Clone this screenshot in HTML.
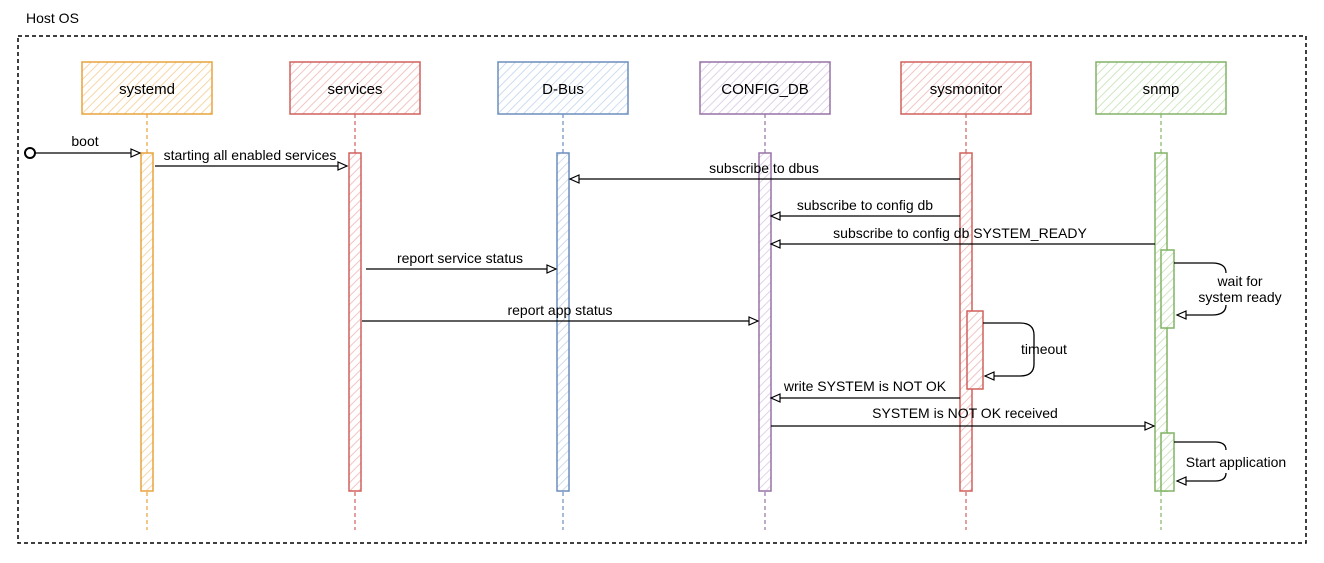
<!DOCTYPE html>
<html><head><meta charset="utf-8"><style>
html,body{margin:0;padding:0;background:#fff;}
svg{display:block;font-family:"Liberation Sans",Arial,sans-serif;}
</style></head><body>
<svg width="1324" height="563" viewBox="0 0 1324 563" xmlns="http://www.w3.org/2000/svg">
<defs>
<pattern id="hO" width="6" height="6" patternUnits="userSpaceOnUse" patternTransform="rotate(45)"><rect width="6" height="6" fill="#fff"/><line x1="0" y1="0" x2="0" y2="6" stroke="#f6d7a8" stroke-width="2"/></pattern>
<pattern id="hR" width="6" height="6" patternUnits="userSpaceOnUse" patternTransform="rotate(45)"><rect width="6" height="6" fill="#fff"/><line x1="0" y1="0" x2="0" y2="6" stroke="#f2c4c2" stroke-width="2"/></pattern>
<pattern id="hB" width="6" height="6" patternUnits="userSpaceOnUse" patternTransform="rotate(45)"><rect width="6" height="6" fill="#fff"/><line x1="0" y1="0" x2="0" y2="6" stroke="#cddcf0" stroke-width="2"/></pattern>
<pattern id="hP" width="6" height="6" patternUnits="userSpaceOnUse" patternTransform="rotate(45)"><rect width="6" height="6" fill="#fff"/><line x1="0" y1="0" x2="0" y2="6" stroke="#e0d2e8" stroke-width="2"/></pattern>
<pattern id="hG" width="6" height="6" patternUnits="userSpaceOnUse" patternTransform="rotate(45)"><rect width="6" height="6" fill="#fff"/><line x1="0" y1="0" x2="0" y2="6" stroke="#cfe6c2" stroke-width="2"/></pattern>
<marker id="ar" markerWidth="12" markerHeight="10" refX="10" refY="5" orient="auto" markerUnits="userSpaceOnUse"><path d="M1,1 L10,5 L1,9 Z" fill="#fff" stroke="#000" stroke-width="1.2"/></marker>
</defs>
<text x="26" y="23" font-size="14" fill="#000">Host OS</text>
<rect x="18" y="36" width="1288" height="507" fill="none" stroke="#000" stroke-width="1.5" stroke-dasharray="4 3"/>
<g font-size="14" text-anchor="middle">
<g stroke-width="1.2" stroke-dasharray="4 3" fill="none">
<line x1="147" y1="114" x2="147" y2="530" stroke="#e8a33d"/>
<line x1="355" y1="114" x2="355" y2="530" stroke="#d0605c"/>
<line x1="563" y1="114" x2="563" y2="530" stroke="#6c8ebf"/>
<line x1="765" y1="114" x2="765" y2="530" stroke="#9673a6"/>
<line x1="966" y1="114" x2="966" y2="530" stroke="#d0605c"/>
<line x1="1161" y1="114" x2="1161" y2="530" stroke="#82b366"/>
</g>
<g font-size="15">
<rect x="82" y="62" width="130" height="52" fill="url(#hO)" stroke="#e8a33d" stroke-width="1.5"/><text x="147" y="94">systemd</text>
<rect x="290" y="62" width="130" height="52" fill="url(#hR)" stroke="#d0605c" stroke-width="1.5"/><text x="355" y="94">services</text>
<rect x="498" y="62" width="130" height="52" fill="url(#hB)" stroke="#6c8ebf" stroke-width="1.5"/><text x="563" y="94">D-Bus</text>
<rect x="700" y="62" width="130" height="52" fill="url(#hP)" stroke="#9673a6" stroke-width="1.5"/><text x="765" y="94">CONFIG_DB</text>
<rect x="901" y="62" width="130" height="52" fill="url(#hR)" stroke="#d0605c" stroke-width="1.5"/><text x="966" y="94">sysmonitor</text>
<rect x="1096" y="62" width="130" height="52" fill="url(#hG)" stroke="#82b366" stroke-width="1.5"/><text x="1161" y="94">snmp</text>
</g>
<rect x="141" y="153" width="12" height="338" fill="url(#hO)" stroke="#e8a33d" stroke-width="1.5"/>
<rect x="349" y="153" width="12" height="338" fill="url(#hR)" stroke="#d0605c" stroke-width="1.5"/>
<rect x="557" y="153" width="12" height="338" fill="url(#hB)" stroke="#6c8ebf" stroke-width="1.5"/>
<rect x="759" y="153" width="12" height="338" fill="url(#hP)" stroke="#9673a6" stroke-width="1.5"/>
<rect x="960" y="153" width="12" height="338" fill="url(#hR)" stroke="#d0605c" stroke-width="1.5"/>
<rect x="967" y="311" width="16" height="78" fill="url(#hR)" stroke="#d0605c" stroke-width="1.5"/>
<rect x="1155" y="153" width="12" height="338" fill="url(#hG)" stroke="#82b366" stroke-width="1.5"/>
<rect x="1161" y="250" width="13" height="78" fill="url(#hG)" stroke="#82b366" stroke-width="1.5"/>
<rect x="1161" y="433" width="13" height="58" fill="url(#hG)" stroke="#82b366" stroke-width="1.5"/>
<g stroke="#000" stroke-width="1.3" fill="none" marker-end="url(#ar)">
<line x1="34" y1="153" x2="140" y2="153"/>
<line x1="155" y1="166" x2="347" y2="166"/>
<line x1="960" y1="179" x2="570" y2="179"/>
<line x1="960" y1="216" x2="771" y2="216"/>
<line x1="1155" y1="244" x2="771" y2="244"/>
<line x1="366" y1="269" x2="556" y2="269"/>
<line x1="362" y1="321" x2="758" y2="321"/>
<path d="M983,323 L1020,323 Q1034,323 1034,335 L1034,364 Q1034,376 1020,376 L985,376"/>
<line x1="960" y1="398" x2="771" y2="398"/>
<line x1="771" y1="426" x2="1154" y2="426"/>
<path d="M1174,263 L1212,263 Q1226,263 1226,273 M1226,305 Q1226,315 1212,315 L1177,315"/>
<path d="M1174,442 L1215,442 Q1226,442 1226,450 M1226,473 Q1226,481 1215,481 L1177,481"/>
</g>
<circle cx="30" cy="153" r="5" fill="#fff" stroke="#000" stroke-width="2"/>
<text x="85" y="146">boot</text>
<text x="250" y="160">starting all enabled services</text>
<text x="764" y="173">subscribe to dbus</text>
<text x="865" y="210">subscribe to config db</text>
<text x="960" y="238">subscribe to config db SYSTEM_READY</text>
<text x="460" y="263">report service status</text>
<text x="560" y="315">report app status</text>
<text x="1044" y="354">timeout</text>
<text x="865" y="391">write SYSTEM is NOT OK</text>
<text x="965" y="418">SYSTEM is NOT OK received</text>
<text x="1240" y="286">wait for</text>
<text x="1240" y="302">system ready</text>
<text x="1236" y="467">Start application</text>
</g>
</svg>
</body></html>
